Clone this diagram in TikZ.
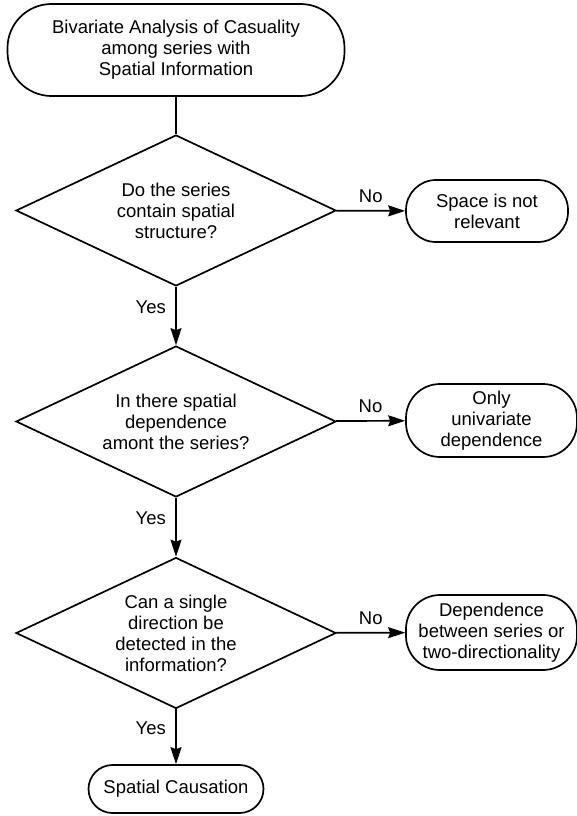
\documentclass[tikz,border=0pt]{standalone}
\usepackage{fontspec}
\setmainfont{Liberation Sans}
\usetikzlibrary{shapes.geometric,arrows.meta}

\begin{document}
\begin{tikzpicture}[x=1pt, y=-1pt, line width=1.7pt,
        font=\fontsize{18.5}{21}\selectfont,
        term/.style={draw, align=center, inner sep=0pt},
        decision/.style={draw, diamond, aspect=2.12, align=center, inner sep=0pt,
            minimum width=320pt, minimum height=151pt},
        flow/.style={-{Stealth[length=17pt, width=11pt, inset=2pt]}}]
            \useasboundingbox (0, 0) rectangle (577, 816);

            \node[term, minimum width=337pt, minimum height=92pt, rounded corners=44pt]
                (start) at (176, 50) {Bivariate Analysis of Casuality\\among series with\\Spatial Information};

            \node[decision] (structure) at (176, 210.5) {Do the series\\contain spatial\\structure?};
            \node[decision] (dependence) at (176, 421.5) {In there spatial\\dependence\\amont the series?};
            \node[decision] (direction) at (176, 633) {Can a single\\direction be\\detected in the\\information?};

            \node[term, minimum width=162pt, minimum height=62pt, rounded corners=30pt]
                (irrelevant) at (487, 211) {Space is not\\relevant};
            \node[term, minimum width=171pt, minimum height=73pt, rounded corners=34pt]
                (univariate) at (491.5, 420.5) {Only\\univariate\\dependence};
            \node[term, minimum width=171pt, minimum height=75pt, rounded corners=34pt]
                (twoway) at (491.5, 632.5) {Dependence\\between series or\\two-directionality};
            \node[term, minimum width=175pt, minimum height=48pt, rounded corners=24pt]
                (causation) at (176, 789) {Spatial Causation};

            \draw (start) -- (structure);
            \draw[flow] (structure) -- node[above=4pt] {No} (irrelevant);
            \draw[flow] (structure) -- node[left=6pt, pos=0.35] {Yes} (dependence);
            \draw[flow] (dependence) -- node[above=4pt] {No} (univariate);
            \draw[flow] (dependence) -- node[left=6pt, pos=0.35] {Yes} (direction);
            \draw[flow] (direction) -- node[above=4pt] {No} (twoway);
            \draw[flow] (direction) -- node[left=6pt, pos=0.35] {Yes} (causation);
\end{tikzpicture}
\end{document}
